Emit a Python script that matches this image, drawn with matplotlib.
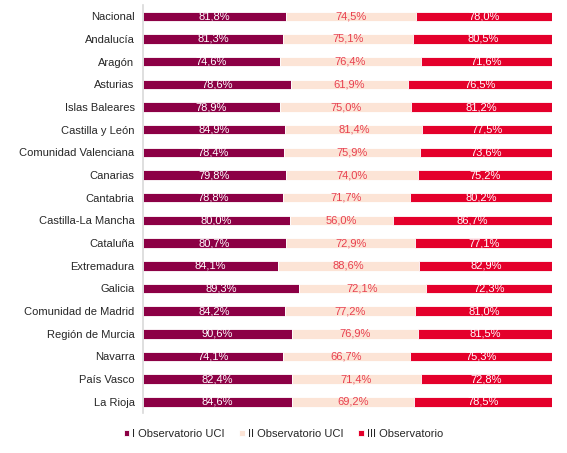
import matplotlib
matplotlib.use("Agg")
import matplotlib.pyplot as plt
import numpy as np

regions = ["Nacional", "Andalucía", "Aragón", "Asturias", "Islas Baleares", "Castilla y León",
           "Comunidad Valenciana", "Canarias", "Cantabria", "Castilla-La Mancha", "Cataluña",
           "Extremadura", "Galicia", "Comunidad de Madrid", "Región de Murcia", "Navarra",
           "País Vasco", "La Rioja"]
obs1 = [81.8, 81.3, 74.6, 78.6, 78.9, 84.9, 78.4, 79.8, 78.8, 80.0, 80.7, 84.1, 89.3, 84.2, 90.6, 74.1, 82.4, 84.6]
obs2 = [74.5, 75.1, 76.4, 61.9, 75.0, 81.4, 75.9, 74.0, 71.7, 56.0, 72.9, 88.6, 72.1, 77.2, 76.9, 66.7, 71.4, 69.2]
obs3 = [78.0, 80.5, 71.6, 76.5, 81.2, 77.5, 73.6, 75.2, 80.2, 86.7, 77.1, 82.9, 72.3, 81.0, 81.5, 75.3, 72.8, 78.5]
series_names = ["I Observatorio UCI", "II Observatorio UCI", "III Observatorio"]

colors = ["#8C0045", "#FCE4D6", "#E4002B"]
text_colors = ["white", "#E8404F", "white"]

plt.rcParams['font.family'] = ['Liberation Sans', 'DejaVu Sans']

fig = plt.figure(figsize=(5.67, 4.53), dpi=100)
ax = fig.add_axes([0.252, 0.088, 0.722, 0.901])

data = np.array([obs1, obs2, obs3])
totals = data.sum(axis=0)
shares = data / totals
y = np.arange(len(regions))
left = np.zeros(len(regions))
for i in range(3):
    ax.barh(y, shares[i], left=left, height=0.42, color=colors[i],
            edgecolor="white", linewidth=0.6, label=series_names[i])
    for j in range(len(regions)):
        ax.text(left[j] + shares[i][j] / 2, y[j], f"{data[i][j]:.1f}%".replace(".", ","),
                ha="center", va="center", fontsize=8, color=text_colors[i])
    left += shares[i]

ax.set_xlim(0, 1)
ax.set_ylim(len(regions) - 0.5, -0.5)
ax.set_yticks(y)
ax.set_yticklabels(regions, fontsize=8, color="#262626")
ax.tick_params(axis="y", length=0, pad=6)
ax.set_xticks([])
for s in ["top", "right", "bottom"]:
    ax.spines[s].set_visible(False)
ax.spines["left"].set_color("#D9D9D9")
ax.spines["left"].set_linewidth(1.2)

handles, labels = ax.get_legend_handles_labels()
fig.legend(handles, labels, loc="center", bbox_to_anchor=(0.5, 0.042), ncol=3, frameon=False,
           fontsize=8, handlelength=0.5, handleheight=0.5, handletextpad=0.3, columnspacing=1.3,
           labelcolor="#262626")

fig.savefig("out.png", dpi=100)
